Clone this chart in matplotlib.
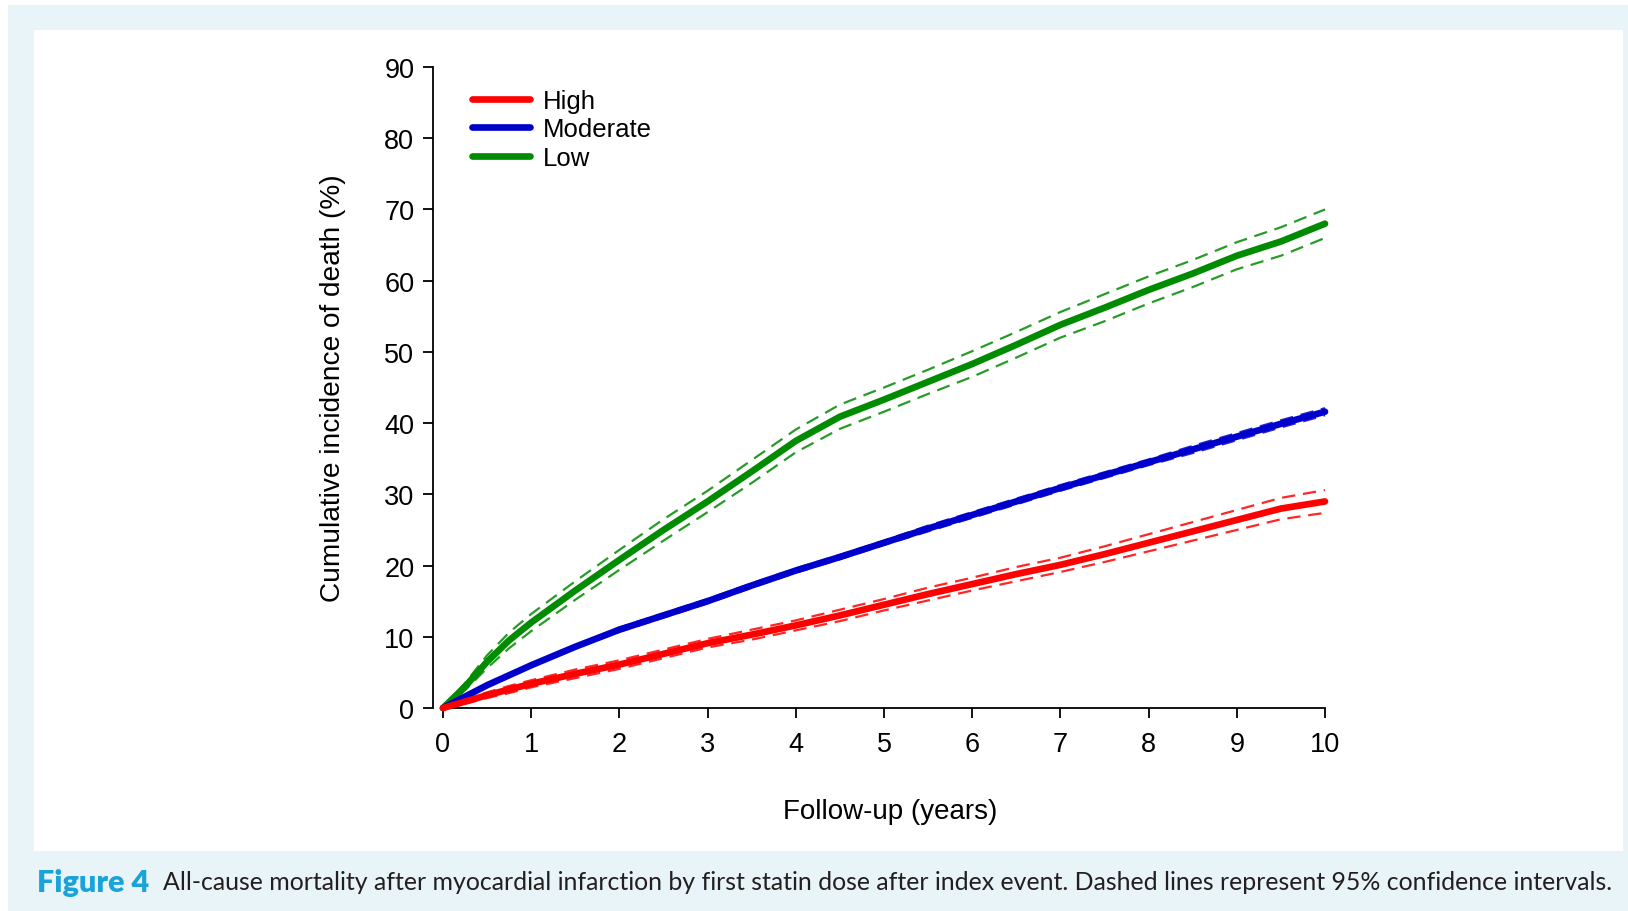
import matplotlib
matplotlib.use('Agg')
import matplotlib.pyplot as plt
from matplotlib.patches import Rectangle

# data (cumulative incidence of death, %)
YEARS = [0, 0.25, 0.5, 0.75, 1, 1.5, 2, 2.5, 3, 3.5, 4, 4.5, 5, 5.5, 6,
         6.5, 7, 7.5, 8, 8.5, 9, 9.5, 10]

HIGH = [0, 0.9, 1.8, 2.6, 3.4, 4.8, 6.1, 7.6, 9.1, 10.3, 11.6, 13.0, 14.5,
        16.0, 17.4, 18.8, 20.1, 21.6, 23.2, 24.8, 26.4, 28.0, 29.0]
HIGH_UPPER = [0, 1.2, 2.2, 3.1, 3.9, 5.4, 6.7, 8.2, 9.7, 11.0, 12.3, 13.8, 15.3,
              16.9, 18.3, 19.8, 21.1, 22.7, 24.4, 26.1, 27.8, 29.5, 30.6]
HIGH_LOWER = [0, 0.6, 1.4, 2.1, 2.9, 4.2, 5.5, 7.0, 8.5, 9.6, 10.9, 12.2, 13.7,
              15.1, 16.5, 17.8, 19.1, 20.5, 22.0, 23.5, 25.0, 26.5, 27.4]

MODERATE = [0, 1.6, 3.2, 4.6, 6.0, 8.6, 11.0, 13.0, 15.0, 17.2, 19.3, 21.2, 23.2,
            25.2, 27.1, 29.0, 30.9, 32.7, 34.5, 36.3, 38.1, 39.9, 41.6]
MOD_UPPER = [0, 1.7, 3.4, 4.8, 6.2, 8.8, 11.3, 13.3, 15.3, 17.5, 19.6, 21.5, 23.5,
             25.6, 27.5, 29.4, 31.3, 33.1, 34.9, 36.8, 38.6, 40.4, 42.1]
MOD_LOWER = [0, 1.5, 3.0, 4.4, 5.8, 8.4, 10.7, 12.7, 14.7, 16.9, 19.0, 20.9, 22.9,
             24.8, 26.7, 28.6, 30.5, 32.3, 34.1, 35.8, 37.6, 39.4, 41.1]

LOW = [0, 3.0, 6.5, 9.5, 12.0, 16.5, 20.8, 25.0, 29.0, 33.2, 37.5, 40.9, 43.3,
       45.8, 48.3, 51.0, 53.8, 56.2, 58.7, 61.0, 63.5, 65.5, 68.0]
LOW_UPPER = [0, 3.5, 7.4, 10.6, 13.2, 17.8, 22.2, 26.5, 30.5, 34.8, 39.1, 42.6, 45.0,
             47.5, 50.1, 52.8, 55.6, 58.1, 60.6, 62.9, 65.4, 67.5, 70.0]
LOW_LOWER = [0, 2.5, 5.6, 8.4, 10.8, 15.2, 19.4, 23.5, 27.5, 31.6, 35.9, 39.2, 41.6,
             44.1, 46.5, 49.2, 52.0, 54.3, 56.8, 59.1, 61.6, 63.5, 66.0]

X_TICKS = list(range(0, 11))
Y_TICKS = list(range(0, 91, 10))

COLORS = {'High': '#ff0000', 'Moderate': '#0000cd', 'Low': '#008b00'}
BG_BLUE = '#e8f4f7'
CAPTION_BLUE = '#19a3d8'

W, H = 1628, 912
plt.rcParams['font.family'] = ['Liberation Sans', 'DejaVu Sans']

fig = plt.figure(figsize=(W / 100, H / 100), dpi=100)
fig.patch.set_facecolor('white')


# page background panels (pixel coords -> figure fractions)
def px_rect(x0, y0, x1, y1, color, z):
    fig.patches.append(Rectangle((x0 / W, 1 - y1 / H), (x1 - x0) / W, (y1 - y0) / H,
                                 transform=fig.transFigure, facecolor=color,
                                 edgecolor='none', zorder=z))


px_rect(8, 6, W, H, BG_BLUE, -2)
px_rect(34, 31, 1623, 852, 'white', -1)

# axes: left spine at x=433px, x=0 at 443px, x=10 at 1325px; y=0 at 709px, y=90 at 68px
ax_left, ax_right = 433, 1325
ax_bottom, ax_top = 709, 68
ax = fig.add_axes([ax_left / W, 1 - ax_bottom / H,
                   (ax_right - ax_left) / W, (ax_bottom - ax_top) / H])
ax.patch.set_alpha(0)
px_per_year = (1325 - 443) / 10
ax.set_xlim(-(443 - ax_left) / px_per_year, 10)
ax.set_ylim(0, 90)

series = [
    ('Low', LOW, LOW_LOWER, LOW_UPPER),
    ('Moderate', MODERATE, MOD_LOWER, MOD_UPPER),
    ('High', HIGH, HIGH_LOWER, HIGH_UPPER),
]
for name, vals, lo, hi in series:
    c = COLORS[name]
    for band in (lo, hi):
        ax.plot(YEARS, band, color=c, lw=1.6, dashes=(6, 3.5), alpha=0.85,
                clip_on=False, zorder=2)
    ax.plot(YEARS, vals, color=c, lw=4.8, solid_capstyle='round',
            solid_joinstyle='round', clip_on=False, zorder=3, label=name)

for s in ('top', 'right'):
    ax.spines[s].set_visible(False)
ax.spines['left'].set_linewidth(1.3)
ax.spines['bottom'].set_linewidth(1.3)
ax.spines['bottom'].set_bounds(0, 10)
ax.spines['left'].set_bounds(0, 90)

ax.set_xticks(X_TICKS)
ax.set_yticks(Y_TICKS)
ax.tick_params(direction='out', length=7.5, width=1.3, labelsize=19.5, pad=6)
ax.tick_params(axis='x', pad=9)

fig.text(890 / W, 1 - 812 / H, 'Follow-up (years)', ha='center', va='center', fontsize=20)
fig.text(333 / W, 1 - 388 / H, 'Cumulative incidence of death (%)', ha='center',
         va='center', rotation=90, fontsize=20.2)

handles, labels = ax.get_legend_handles_labels()
order = [labels.index(n) for n in ('High', 'Moderate', 'Low')]
leg = ax.legend([handles[i] for i in order], [labels[i] for i in order],
                loc='upper left', bbox_to_anchor=(472 / W, 1 - 90 / H),
                bbox_transform=fig.transFigure, frameon=False, fontsize=18.5,
                handlelength=2.25, handletextpad=0.5, labelspacing=0.17,
                borderaxespad=0, borderpad=0)
for ln in leg.get_lines():
    ln.set_linewidth(4.8)

# caption, scaled to span the same width as the reference
cap_y = 1 - 883 / H
t1 = fig.text(37 / W, cap_y, 'Figure 4', ha='left', va='center', fontsize=20,
              fontweight='heavy', color=CAPTION_BLUE, family=['Lato', 'DejaVu Sans'])
caption = ('All-cause mortality after myocardial infarction by first statin dose after '
           'index event. Dashed lines represent 95% confidence intervals.')
fig.canvas.draw()
r = fig.canvas.get_renderer()
e1 = t1.get_window_extent(r)
t1.set_fontsize(min(22, 20 * (151 - 37) / e1.width))
x2 = 163
t2 = fig.text(x2 / W, cap_y, caption, ha='left', va='center', fontsize=16,
              color='#231f20', family=['Lato', 'DejaVu Sans'])
for _ in range(3):
    e2 = t2.get_window_extent(r)
    t2.set_fontsize(t2.get_fontsize() * (1609 - x2) / e2.width)

fig.savefig('out.png', dpi=100, facecolor=fig.get_facecolor())
